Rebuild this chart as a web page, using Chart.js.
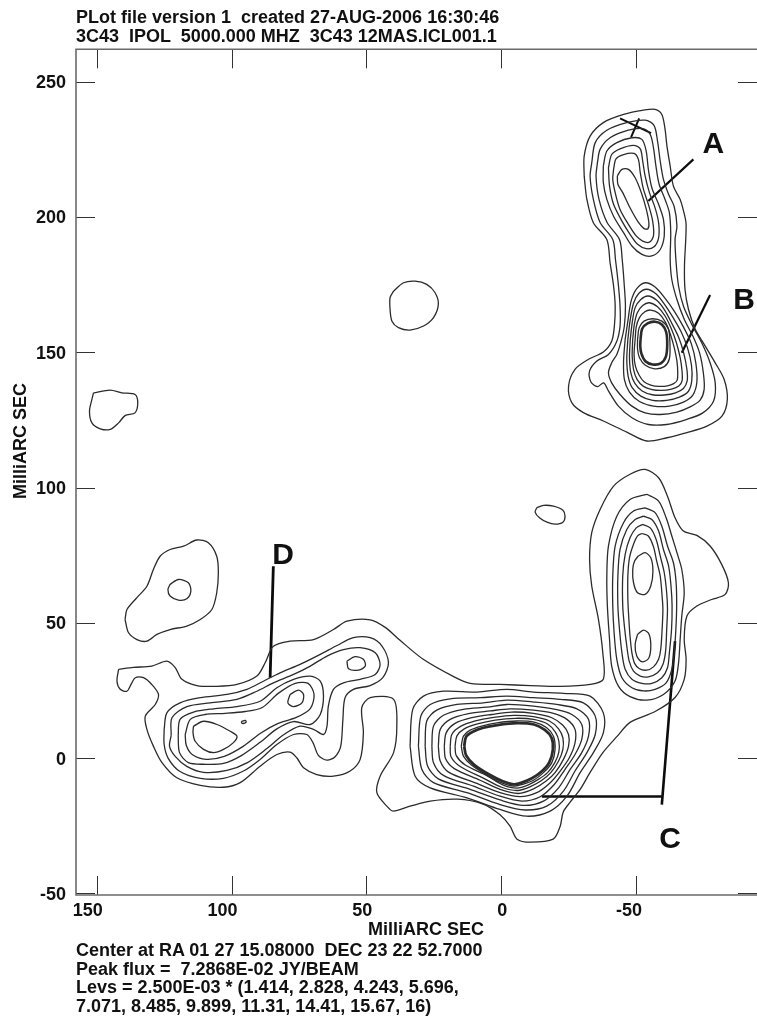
<!DOCTYPE html>
<html>
<head>
<meta charset="utf-8">
<title>3C43 IPOL 5000 MHz</title>
<script src="https://cdn.jsdelivr.net/npm/chart.js@4.4.1/dist/chart.umd.min.js"></script>
<style>
  html, body { margin: 0; padding: 0; background: #fff; }
  #wrap { position: relative; width: 757px; height: 1018px; overflow: hidden; background: #fff; }
  #map { position: absolute; left: 0; top: 0; }
  .t { position: absolute; font-family: "Liberation Sans", Arial, Helvetica, sans-serif; font-weight: bold;
       font-size: 18px; line-height: 18px; color: #111; white-space: pre; }
</style>
</head>
<body>
<div id="wrap">
  <canvas id="map" width="757" height="1018"></canvas>
  <div class="t" style="left:76px;top:8px">PLot file version 1  created 27-AUG-2006 16:30:46</div>
  <div class="t" style="left:76px;top:26.5px">3C43  IPOL  5000.000 MHZ  3C43 12MAS.ICL001.1</div>
  <div class="t" style="left:326px;top:920px;width:200px;text-align:center">MilliARC SEC</div>
  <div class="t" style="left:-60px;top:432px;width:160px;text-align:center;transform:rotate(-90deg)">MilliARC SEC</div>
  <div class="t" style="left:76px;top:941px">Center at RA 01 27 15.08000  DEC 23 22 52.7000</div>
  <div class="t" style="left:76px;top:959.5px">Peak flux =  7.2868E-02 JY/BEAM</div>
  <div class="t" style="left:76px;top:978px">Levs = 2.500E-03 * (1.414, 2.828, 4.243, 5.696,</div>
  <div class="t" style="left:76px;top:996.5px">7.071, 8.485, 9.899, 11.31, 14.41, 15.67, 16)</div>
</div>
<script>
// ---- axes (milliarcsec offsets from the map centre; RA increases to the left) ----
const xTickValues = [150, 100, 50, 0, -50];
const yTickValues = [-50, 0, 50, 100, 150, 200, 250];
const X_LEFT = 157.7, X_RIGHT = -94.9;
const Y_BOTTOM = -50.63, Y_TOP = 262.0;

// ---- lowest contour: one envelope around core, jet C and lobe D ----
const envelope = [
  [141.9,32.8],[136.4,33.5],[129.6,34.0],[124.0,35.8],[120.9,33.4],[118.4,29.1],[112.9,26.8],[105.4,26.5],[98.0,27.2],[90.6,30.3],
  [87.5,35.3],[84.5,41.3],[78.3,43.2],[69.6,43.8],[62.2,47.5],[57.2,50.6],[48.6,51.1],[43.0,48.3],[37.5,43.5],[28.9,36.5],
  [17.8,30.2],[11.5,27.6],[0.4,27.2],[-10.8,26.8],[-21.9,26.5],[-33.0,27.2],[-37.9,29.1],
  [-37.7,38.9],[-36.1,51.2],[-33.6,63.6],[-32.8,73.4],[-33.6,83.3],[-36.7,91.9],[-41.7,100.5],[-47.8,104.9],[-53.4,106.7],
  [-58.4,103.6],[-61.7,96.8],[-64.5,88.8],[-67.6,83.9],[-72.6,82.3],[-77.5,78.4],[-81.8,71.6],[-84.3,64.8],[-83.1,60.5],
  [-78.1,58.6],[-72.6,56.2],[-68.9,52.5],[-67.9,43.9],[-68.6,36.5],
  [-67.9,29.1],[-64.5,22.4],[-57.1,17.2],[-47.8,13.2],[-43.0,8.0],[-37.8,2.1],[-33.0,-5.3],[-29.3,-11.6],[-25.6,-16.3],
  [-23.0,-20.0],[-21.9,-25.2],[-19.3,-30.0],[-10.8,-31.1],[-5.9,-30.0],[-3.3,-25.2],[0.4,-21.0],[6.7,-17.0],[16.3,-15.2],
  [26.3,-15.9],[33.8,-17.8],[40.1,-19.6],
  [42.4,-17.8],[46.1,-12.8],[44.9,-6.7],[39.9,2.0],[38.7,11.8],[39.9,21.7],[48.6,22.3],[51.7,18.6],[51.1,9.4],[52.3,-0.5],
  [56.0,-4.8],[62.2,-6.7],[68.4,-6.1],[73.3,-3.6],[75.8,0.1],[78.3,2.2],[83.2,1.3],[89.4,-3.0],[96.8,-9.1],[103.0,-10.8],
  [111.6,-10.1],[120.3,-7.3],[125.8,-1.7],[129.0,4.4],[131.4,10.6],[132.0,15.5],[128.3,19.8],[127.1,23.5],[129.6,27.2],
  [132.7,29.7],[135.7,29.7],[137.3,27.2],[138.8,24.7],[141.3,25.4],[142.5,28.4]
];

// ---- isolated low-level patches ----
const patchWest = [[151.2,135.0],[145.0,136.0],[140.7,135.0],[135.8,134.4],[134.8,131.3],[135.8,127.6],[139.5,126.6],[141.9,123.9],[145.0,121.5],[148.7,121.7],[151.8,123.9],[152.7,128.2],[151.8,132.6]];
const patchMid = [[39.9,172.6],[36.2,175.7],[31.9,176.3],[27.6,175.1],[24.5,172.0],[23.3,167.7],[25.1,162.8],[28.8,159.7],[33.8,158.2],[38.1,159.1],[40.5,161.5],[41.2,165.8],[41.2,170.2]];
const patchSmall = [[-13.2,92.5],[-15.7,93.4],[-19.4,93.1],[-22.9,91.6],[-23.7,89.4],[-22.9,87.2],[-20.0,86.5],[-17.0,87.2],[-14.2,88.8],[-12.6,90.9]];
const patchNW = [[139.5,51.2],[138.8,54.9],[135.1,59.3],[131.4,63.5],[129.0,69.7],[126.5,74.6],[122.8,77.1],[117.8,78.3],[112.9,80.6],[108.6,79.6],[105.5,74.6],[104.9,68.5],[105.5,61.1],[107.3,54.9],[111.6,51.2],[116.6,48.8],[122.8,47.5],[127.7,45.7],[131.4,43.2],[135.1,43.8],[138.2,46.3]];
const patchNWCore = [[122.8,64.2],[119.7,66.0],[116.0,64.8],[115.1,61.7],[116.6,58.9],[119.7,58.4],[122.8,59.9],[123.6,62.3]];

// ---- lobe D ----
const lobeD2 = [[125.0,10.6],[124.0,16.7],[119.1,20.4],[111.6,22.3],[101.7,23.5],[94.3,25.4],[88.2,28.4],[82.0,31.5],[74.6,34.6],[67.1,38.3],[60.9,41.6],[54.8,44.5],[48.6,44.5],[44.2,41.4],[41.8,35.2],[43.9,29.7],[48.6,26.8],[54.8,25.4],[57.9,22.3],[58.7,14.3],[59.5,4.4],[61.6,0.5],[64.6,-0.8],[67.8,1.0],[69.8,5.7],[72.1,8.7],[77.0,8.7],[83.2,5.0],[89.4,-0.5],[95.6,-4.8],[103.0,-7.5],[111.6,-7.5],[119.1,-5.0],[123.5,-0.1],[125.0,5.0]];
const lobeD3 = [[122.4,8.4],[122.1,14.9],[116.6,19.0],[107.9,20.4],[98.0,21.7],[90.6,24.7],[84.5,27.8],[77.0,30.9],[70.8,34.0],[64.6,37.7],[58.5,40.1],[52.3,40.8],[46.7,38.9],[44.9,34.6],[46.7,30.9],[52.3,29.1],[58.5,27.8],[62.2,25.4],[64.1,19.2],[64.6,11.8],[65.9,8.7],[69.6,10.6],[74.6,11.8],[80.7,8.6],[86.9,3.5],[94.3,-1.8],[101.7,-4.6],[110.4,-5.3],[116.6,-3.1],[120.9,0.6],[123.0,4.3]];
const lobeD4 = [[119.8,8.0],[119.1,14.3],[114.1,17.0],[106.7,18.2],[98.0,19.0],[89.4,21.0],[83.2,26.0],[77.0,29.1],[70.8,30.3],[67.1,28.4],[65.9,22.9],[67.1,16.1],[70.8,12.4],[77.0,13.5],[83.2,10.8],[89.4,5.8],[96.2,1.0],[103.0,-2.0],[110.4,-2.3],[116.0,-1.7],[119.3,2.0]];
const lobeD5 = [[117.2,8.7],[115.3,14.3],[109.8,16.1],[102.4,16.5],[95.0,17.2],[88.6,18.7],[82.7,23.9],[76.4,27.6],[71.6,27.6],[69.4,23.5],[70.8,18.3],[76.0,15.0],[82.7,12.8],[89.4,9.1],[95.7,4.3],[102.7,0.6],[109.4,-0.5],[114.6,1.3],[116.8,4.7]];
const lobeDKnot = [[114.1,11.8],[110.4,13.6],[105.4,12.4],[100.5,9.9],[98.0,8.1],[99.3,5.7],[103.0,3.2],[106.7,2.0],[110.4,3.2],[113.5,6.2],[114.3,9.4]];
const lobeDKnotEast = [[78.3,23.5],[75.2,25.1],[73.3,23.5],[73.9,20.4],[77.0,19.0],[79.1,20.4]];
const lobeDKnotNE = [[57.2,35.8],[54.2,37.5],[51.1,36.5],[50.4,34.0],[52.9,32.5],[56.6,33.0]];
const lobeDSpeck = [[96.4,13.5],[94.9,13.9],[94.6,13.2],[96.1,12.8]];

// ---- core (outermost to innermost) ----
const core1 = [[33.8,4.4],[32.8,18.0],[28.8,22.9],[21.4,24.7],[9.0,24.4],[-2.1,25.4],[-12.0,24.4],[-23.1,23.9],[-33.0,22.9],[-37.9,16.7],[-37.9,9.3],[-34.2,2.0],[-29.3,-5.4],[-24.4,-14.1],[-18.2,-19.6],[-9.5,-21.5],[0.4,-19.0],[12.7,-14.7],[26.3,-11.0],[31.9,-6.7]];
const core2 = [[30.7,4.4],[29.8,15.5],[26.3,19.8],[18.9,21.9],[7.8,22.3],[-2.1,22.9],[-12.0,22.3],[-21.9,21.7],[-30.5,20.4],[-34.9,15.5],[-34.9,8.7],[-31.8,2.0],[-27.4,-4.8],[-23.1,-12.2],[-16.9,-17.8],[-8.9,-19.2],[0.4,-17.2],[12.7,-12.8],[25.1,-9.1],[29.4,-4.2]];
const core3 = [[28.2,4.4],[27.6,13.7],[23.9,17.7],[16.4,19.8],[6.6,20.4],[-2.1,21.4],[-12.0,20.7],[-20.6,19.8],[-28.1,18.2],[-32.4,14.3],[-32.4,8.1],[-29.9,2.0],[-25.6,-4.2],[-21.3,-11.0],[-15.7,-15.9],[-8.3,-17.5],[0.4,-15.5],[11.5,-11.6],[23.3,-7.7],[27.3,-2.9]];
const core4 = [[25.7,4.4],[25.1,11.8],[21.4,15.8],[14.0,18.0],[5.3,18.8],[-2.1,19.8],[-12.0,19.2],[-20.0,18.0],[-26.2,16.1],[-29.9,12.4],[-29.9,6.9],[-27.4,1.3],[-23.7,-4.2],[-19.7,-9.8],[-14.5,-14.3],[-7.7,-15.9],[0.4,-14.1],[10.3,-10.4],[21.4,-6.4],[25.1,-1.7]];
const core5 = [[23.3,4.4],[22.6,10.6],[18.9,14.3],[12.1,16.4],[4.1,17.4],[-3.3,18.2],[-12.0,17.7],[-19.4,16.5],[-24.4,14.3],[-27.4,10.6],[-27.4,5.6],[-25.3,0.1],[-21.9,-4.8],[-18.2,-9.1],[-13.2,-12.8],[-7.0,-14.3],[0.4,-12.8],[9.0,-9.4],[19.5,-5.2],[22.6,-1.1]];
const core6 = [[21.1,4.4],[20.4,9.3],[17.1,12.8],[10.9,14.9],[3.5,16.1],[-3.9,17.0],[-12.0,16.5],[-18.8,14.9],[-22.9,12.1],[-25.0,8.7],[-25.0,4.4],[-23.1,-0.5],[-20.0,-5.4],[-16.7,-8.5],[-12.0,-11.4],[-6.4,-13.1],[0.4,-11.6],[7.8,-8.2],[17.4,-3.9],[20.6,-0.3]];
const core7 = [[18.9,4.4],[18.3,8.7],[15.2,11.6],[9.6,13.7],[2.8,15.0],[-4.6,15.8],[-12.0,15.3],[-17.9,13.7],[-21.3,10.8],[-22.9,7.5],[-22.9,3.2],[-21.3,-1.1],[-18.4,-5.4],[-15.1,-8.2],[-11.0,-10.5],[-6.1,-12.0],[-0.2,-10.8],[6.6,-7.4],[15.2,-3.1],[18.6,0.5]];
const core8 = [[17.1,4.4],[16.4,8.2],[13.7,10.8],[8.8,12.6],[2.2,14.0],[-5.2,14.7],[-12.0,14.3],[-17.2,12.6],[-20.1,9.6],[-21.4,6.3],[-21.4,2.2],[-19.9,-1.7],[-17.2,-5.4],[-13.8,-7.9],[-10.1,-9.9],[-5.8,-11.1],[-0.6,-9.9],[5.3,-6.5],[13.3,-2.6],[16.7,1.0]];
const core9 = [[14.8,4.4],[14.0,8.1],[11.5,10.3],[7.2,11.8],[1.6,13.0],[-5.8,13.7],[-12.6,13.2],[-16.9,11.2],[-19.4,8.1],[-20.0,3.2],[-18.8,-1.7],[-15.7,-5.4],[-12.0,-8.2],[-7.7,-9.8],[-4.6,-10.4],[-0.2,-9.2],[4.7,-6.7],[10.9,-2.7],[14.0,0.7]];
const core10 = [[13.7,4.4],[13.0,7.9],[10.5,9.7],[6.6,11.2],[1.4,12.2],[-5.8,12.9],[-12.2,12.4],[-16.2,10.4],[-18.7,7.5],[-19.2,3.2],[-17.9,-1.5],[-15.1,-4.9],[-11.4,-7.5],[-7.4,-9.2],[-4.6,-9.7],[-0.6,-8.6],[4.1,-6.3],[10.0,-2.5],[13.0,1.0]];

// ---- jet C (north of the core) ----
const jetC1 = [[-54.0,97.5],[-58.4,95.0],[-61.2,88.8],[-63.3,82.1],[-65.4,75.3],[-67.0,69.7],[-67.9,61.1],[-67.0,52.5],[-66.4,43.9],[-65.8,35.2],[-64.5,28.5],[-60.2,23.5],[-54.0,21.4],[-47.8,22.7],[-43.5,26.6],[-41.0,34.0],[-40.2,43.9],[-39.4,56.2],[-39.2,67.3],[-39.8,78.4],[-42.9,89.4],[-47.8,95.6]];
const jetC2 = [[-53.4,92.5],[-57.1,90.7],[-59.6,85.7],[-61.7,78.4],[-63.9,72.2],[-64.9,64.8],[-65.1,56.2],[-64.8,47.5],[-64.2,38.9],[-63.3,32.8],[-61.2,27.8],[-57.1,25.4],[-52.8,24.8],[-48.5,26.0],[-44.8,29.7],[-42.9,36.5],[-41.9,46.3],[-41.4,56.2],[-41.4,67.3],[-42.3,78.4],[-45.4,87.0],[-49.1,91.3]];
const jetC3 = [[-52.8,89.4],[-55.9,88.2],[-58.4,83.9],[-60.2,77.1],[-62.1,71.0],[-63.0,63.6],[-63.4,56.2],[-63.2,47.5],[-62.4,38.9],[-61.7,33.4],[-59.6,29.7],[-55.9,27.6],[-52.2,27.6],[-48.5,29.1],[-46.0,32.8],[-44.8,38.9],[-43.9,47.5],[-43.3,56.2],[-43.3,67.3],[-44.1,77.1],[-46.6,84.5],[-49.7,88.2]];
const jetC4 = [[-52.5,86.4],[-55.3,85.1],[-57.5,80.8],[-59.0,74.7],[-60.5,68.5],[-61.4,61.1],[-61.7,55.0],[-61.4,47.5],[-61.0,39.5],[-60.0,34.6],[-58.0,31.5],[-54.6,30.0],[-51.6,30.3],[-49.1,32.1],[-47.5,35.8],[-46.6,41.4],[-45.7,48.8],[-45.1,56.2],[-45.1,67.3],[-46.0,75.3],[-47.8,81.4],[-50.1,85.1]];
const jetC5 = [[-52.2,83.0],[-54.6,82.1],[-56.5,78.1],[-57.7,72.8],[-59.0,67.3],[-59.7,59.9],[-60.0,55.0],[-59.7,47.5],[-59.2,40.2],[-58.4,36.5],[-56.5,33.7],[-54.0,32.5],[-51.3,33.0],[-49.5,35.0],[-48.5,38.9],[-47.8,45.1],[-47.3,52.5],[-47.0,58.6],[-47.0,67.3],[-47.6,74.0],[-49.1,79.0],[-50.6,82.1]];
const jetKnotN = [[-50.9,74.7],[-53.4,75.9],[-55.5,74.0],[-56.3,69.1],[-55.5,63.6],[-53.4,60.5],[-50.6,61.1],[-49.1,64.8],[-48.8,69.7],[-49.5,72.8]];
const jetKnotS = [[-50.6,45.7],[-52.8,47.3],[-54.9,45.7],[-55.5,40.8],[-54.6,36.7],[-52.2,35.6],[-50.3,37.7],[-49.7,42.0]];

// ---- northern hot spots A and B ----
const north1 = [[-30.8,215.1],[-30.8,222.5],[-33.0,229.9],[-37.9,234.9],[-45.4,237.9],[-52.8,239.5],[-57.1,239.8],[-59.6,237.9],[-60.8,232.4],[-61.5,226.2],[-62.7,218.8],[-63.9,211.4],[-66.4,206.5],[-67.5,202.8],[-68.6,197.3],[-68.0,181.9],[-68.2,173.2],[-69.5,165.8],[-72.0,158.5],[-75.7,152.3],[-79.4,146.1],[-82.7,140.0],[-83.9,132.6],[-81.9,126.4],[-76.3,122.7],[-68.9,120.3],[-61.5,118.4],[-54.0,117.2],[-46.6,120.5],[-37.9,124.6],[-30.5,127.7],[-26.2,131.4],[-25.0,137.5],[-27.4,143.7],[-32.4,147.4],[-37.9,150.1],[-41.0,154.1],[-42.0,159.7],[-42.3,167.1],[-41.7,174.5],[-40.4,183.1],[-39.2,191.7],[-34.2,197.9],[-31.8,206.5]];
const north2 = [[-33.6,220.0],[-34.9,227.5],[-39.2,232.1],[-46.6,234.9],[-53.4,235.8],[-56.7,233.9],[-58.0,228.1],[-59.0,220.7],[-60.2,213.9],[-62.1,208.4],[-64.2,203.8],[-65.2,196.7],[-64.5,191.7],[-64.9,183.1],[-65.8,174.5],[-67.6,167.1],[-70.7,160.3],[-74.4,153.5],[-77.5,146.1],[-79.4,138.7],[-78.8,132.0],[-74.8,127.6],[-68.9,125.2],[-61.4,123.3],[-54.6,123.3],[-48.5,125.8],[-43.5,130.1],[-39.8,135.7],[-38.0,138.7],[-35.7,137.3],[-33.3,139.0],[-32.8,143.1],[-35.5,146.8],[-39.8,149.2],[-42.9,154.1],[-44.1,159.7],[-44.1,167.1],[-43.4,175.7],[-42.4,184.3],[-41.4,191.7],[-36.7,198.0],[-34.2,206.5],[-33.0,215.0]];
const north3 = [[-35.7,220.0],[-36.7,225.0],[-40.4,229.3],[-47.2,232.1],[-52.8,232.6],[-55.3,230.5],[-56.5,225.6],[-57.4,218.9],[-58.6,212.1],[-60.8,206.5],[-62.4,201.6],[-62.9,194.2],[-62.7,184.3],[-63.3,176.9],[-65.2,169.5],[-67.9,162.2],[-71.1,156.0],[-73.6,149.8],[-75.0,142.4],[-75.3,136.3],[-73.8,132.3],[-70.3,129.9],[-65.2,127.9],[-59.0,127.0],[-53.4,127.6],[-48.5,130.1],[-44.1,134.4],[-41.0,138.7],[-39.8,142.4],[-41.0,146.1],[-42.9,149.2],[-44.5,154.1],[-45.7,159.7],[-46.1,167.1],[-45.6,175.7],[-44.9,184.3],[-43.9,191.7],[-39.3,198.0],[-36.3,206.5],[-35.2,215.0]];
const spotA4 = [[-37.9,218.9],[-39.2,224.4],[-42.9,227.5],[-48.5,229.3],[-52.2,228.7],[-53.8,224.4],[-54.6,217.6],[-55.9,210.8],[-58.4,204.7],[-60.2,199.1],[-60.5,193.0],[-59.0,188.0],[-55.9,185.6],[-52.2,186.2],[-48.5,189.3],[-45.4,194.2],[-41.7,200.3],[-39.2,206.5],[-37.9,212.7]];
const spotA5 = [[-39.8,218.2],[-41.0,223.1],[-44.1,225.2],[-49.1,226.5],[-51.6,225.2],[-52.5,220.7],[-53.4,215.2],[-55.0,209.0],[-57.1,203.4],[-58.4,197.9],[-58.4,192.3],[-56.7,189.0],[-53.8,188.3],[-50.6,189.9],[-47.8,193.6],[-44.8,198.5],[-41.7,204.7],[-40.2,211.4]];
const spotA6 = [[-41.7,217.6],[-42.6,221.5],[-45.4,223.1],[-49.3,223.5],[-50.9,221.3],[-51.6,216.4],[-52.8,210.2],[-54.6,204.7],[-56.2,198.5],[-56.5,193.0],[-55.0,190.7],[-52.5,191.1],[-50.1,193.0],[-47.2,197.3],[-44.1,202.8],[-42.3,209.0],[-41.4,213.9]];
const spotA7 = [[-43.1,215.2],[-44.8,217.6],[-47.2,217.6],[-49.7,214.5],[-52.0,209.0],[-53.8,203.0],[-54.8,197.8],[-54.4,195.6],[-52.9,195.8],[-50.6,198.5],[-47.8,203.4],[-45.1,209.0],[-43.3,212.1]];
const spotB4 = [[-46.0,154.8],[-47.0,161.5],[-48.2,168.9],[-50.3,173.5],[-53.5,175.7],[-57.1,174.1],[-60.6,170.2],[-64.2,165.2],[-67.6,159.4],[-70.5,153.3],[-72.2,146.1],[-72.6,139.0],[-71.1,134.2],[-67.6,131.6],[-62.4,130.1],[-56.5,130.1],[-51.3,131.8],[-47.6,135.3],[-45.7,140.0],[-45.4,146.7]];
const spotB5 = [[-47.0,154.8],[-47.8,161.5],[-49.1,168.1],[-51.1,171.8],[-54.0,173.3],[-57.4,171.6],[-60.6,167.7],[-63.9,162.6],[-66.8,157.5],[-69.1,151.7],[-70.6,145.2],[-70.7,139.4],[-69.4,135.5],[-66.1,133.4],[-61.4,132.2],[-56.2,132.2],[-51.8,133.8],[-48.6,136.9],[-47.1,141.2],[-46.6,147.4]];
const spotB6 = [[-47.9,154.8],[-48.6,160.9],[-49.7,166.5],[-51.8,169.5],[-54.5,170.8],[-57.7,169.2],[-60.7,165.5],[-63.5,160.3],[-65.9,155.4],[-67.7,149.8],[-68.9,143.7],[-69.0,139.4],[-67.6,136.6],[-64.7,135.0],[-60.5,134.2],[-56.1,134.3],[-52.3,135.7],[-49.6,138.5],[-48.1,142.4],[-47.6,148.0]];
const spotB7 = [[-48.8,154.8],[-49.4,160.3],[-50.5,164.6],[-52.5,167.3],[-55.0,168.3],[-58.0,166.8],[-60.8,163.4],[-63.2,158.5],[-65.0,153.5],[-66.4,148.0],[-67.1,143.1],[-67.1,139.4],[-65.9,137.5],[-63.2,136.4],[-59.5,135.9],[-56.0,136.2],[-52.8,137.4],[-50.4,140.0],[-49.1,143.7],[-48.6,148.6]];
const spotB8 = [[-49.7,154.8],[-50.1,159.4],[-51.3,162.8],[-53.3,165.0],[-55.5,165.6],[-58.4,164.4],[-60.9,161.2],[-62.8,156.6],[-64.2,151.7],[-65.2,146.7],[-65.5,142.4],[-65.3,139.7],[-64.0,138.4],[-61.7,137.6],[-58.5,137.4],[-55.5,137.9],[-53.0,139.1],[-51.2,141.5],[-49.8,144.9],[-49.3,149.2]];
const spotB9 = [[-50.6,154.8],[-51.2,159.1],[-53.0,161.5],[-56.2,162.4],[-59.6,161.5],[-62.0,158.7],[-62.6,153.5],[-62.4,147.6],[-60.5,144.7],[-56.9,143.9],[-53.5,145.2],[-51.3,148.0],[-50.6,151.1]];
const spotB10 = [[-51.7,154.8],[-52.3,158.7],[-54.3,160.7],[-57.1,161.3],[-59.7,160.2],[-61.2,157.5],[-61.6,152.9],[-61.1,148.4],[-59.2,145.9],[-56.2,145.5],[-53.5,146.7],[-52.0,149.6],[-51.6,152.3]];

// ---- annotation marks ----
const pointerA = [[-54.6,205.9],[-71.3,221.3]];
const pointerB = [[-67.0,149.8],[-77.5,171.2]];
const pointerCUp = [[-64.5,43.2],[-59.6,-17.2]];
const pointerCAcross = [[-59.6,-14.2],[-15.1,-14.2]];
const pointerD = [[84.5,70.9],[85.7,29.7]];
const crossStroke1 = [[-44.1,236.5],[-55.6,231.0]];
const crossStroke2 = [[-51.2,236.5],[-48.2,229.5]];
const componentNames = ['A', 'B', 'C', 'D'];
const componentX = [-78.7, -90.1, -62.7, 80.9];
const componentY = [227.1, 169.5, -29.7, 75.1];

// ---- styling and assembly ----
const FONT = '"Liberation Sans", Arial, Helvetica, sans-serif';
const INK = '#2b2b2b';

function closedRing(ring) {
  const pts = ring.map(([x, y]) => ({ x, y }));
  pts.push({ x: ring[0][0], y: ring[0][1] });
  return pts;
}
function contour(ring, width) {
  return { data: closedRing(ring), showLine: true, borderColor: INK, borderWidth: width || 1.3,
           pointRadius: 0, tension: 0.3, fill: false };
}
function stroke(pts, width) {
  return { data: pts.map(([x, y]) => ({ x, y })), showLine: true, borderColor: '#0c0c0c',
           borderWidth: width, pointRadius: 0, tension: 0, fill: false };
}

const thinRings = [
  envelope, patchWest, patchMid, patchSmall, patchNW, patchNWCore,
  lobeD2, lobeD3, lobeD4, lobeD5, lobeDKnot, lobeDKnotEast, lobeDKnotNE, lobeDSpeck,
  core1, core2, core3, core4, core5, core6, core7, core8, core9,
  jetC1, jetC2, jetC3, jetC4, jetC5, jetKnotN, jetKnotS,
  north1, north2, north3, spotA4, spotA5, spotA6, spotA7,
  spotB4, spotB5, spotB6, spotB7, spotB8, spotB9
];

const datasets = thinRings.map(r => contour(r));
datasets.push(contour(core10, 2.8));
datasets.push(contour(spotB10, 2.6));
datasets.push(stroke(pointerA, 2.2), stroke(pointerB, 2.2), stroke(pointerCUp, 2.6),
               stroke(pointerCAcross, 2.4), stroke(pointerD, 2.8),
               stroke(crossStroke1, 2), stroke(crossStroke2, 2));

// frame on three sides plus inward ticks on all four
const frameAndTicks = {
  id: 'frameAndTicks',
  afterDraw(chart) {
    const { ctx, chartArea: a, scales } = chart;
    const len = 19;
    ctx.save();
    ctx.strokeStyle = '#333';
    ctx.lineWidth = 1;
    ctx.beginPath();
    xTickValues.forEach(v => {
      const px = Math.round(scales.x.getPixelForValue(v)) + 0.5;
      ctx.moveTo(px, a.top); ctx.lineTo(px, a.top + len);
      ctx.moveTo(px, a.bottom); ctx.lineTo(px, a.bottom - len);
    });
    yTickValues.forEach(v => {
      const py = Math.round(scales.y.getPixelForValue(v)) + 0.5;
      ctx.moveTo(a.left, py); ctx.lineTo(a.left + len, py);
      ctx.moveTo(a.right, py); ctx.lineTo(a.right - len, py);
    });
    ctx.stroke();
    ctx.strokeStyle = '#6a6a6a';
    ctx.lineWidth = 1.6;
    ctx.beginPath();
    ctx.moveTo(a.right, a.top);
    ctx.lineTo(a.left, a.top);
    ctx.lineTo(a.left, a.bottom);
    ctx.lineTo(a.right, a.bottom);
    ctx.stroke();
    ctx.restore();
  }
};

const componentLabels = {
  id: 'componentLabels',
  afterDatasetsDraw(chart) {
    const { ctx, scales } = chart;
    ctx.save();
    ctx.fillStyle = '#111';
    ctx.font = 'bold 30px ' + FONT;
    ctx.textAlign = 'center';
    ctx.textBaseline = 'middle';
    componentNames.forEach((name, i) => {
      ctx.fillText(name, scales.x.getPixelForValue(componentX[i]), scales.y.getPixelForValue(componentY[i]) + 1);
    });
    ctx.restore();
  }
};

new Chart(document.getElementById('map'), {
  type: 'scatter',
  data: { datasets },
  options: {
    responsive: false,
    animation: false,
    devicePixelRatio: 1,
    events: [],
    layout: { padding: { top: 49.3, left: 0, right: 0, bottom: 0 } },
    plugins: { legend: { display: false }, tooltip: { enabled: false }, title: { display: false } },
    scales: {
      x: {
        type: 'linear', position: 'bottom', reverse: true, min: X_RIGHT, max: X_LEFT,
        afterBuildTicks: s => { s.ticks = xTickValues.map(v => ({ value: v })); },
        afterFit: s => { s.height = 123; },
        grid: { display: false, drawTicks: false },
        border: { display: false },
        ticks: { color: '#111', font: { family: FONT, size: 18, weight: 'bold' }, padding: 5,
                 align: 'end', labelOffset: 6, maxRotation: 0, autoSkip: false, callback: v => String(v) }
      },
      y: {
        type: 'linear', position: 'left', min: Y_BOTTOM, max: Y_TOP,
        afterBuildTicks: s => { s.ticks = yTickValues.map(v => ({ value: v })); },
        afterFit: s => { s.width = 76; },
        grid: { display: false, drawTicks: false },
        border: { display: false },
        ticks: { color: '#111', font: { family: FONT, size: 18, weight: 'bold' }, padding: 10,
                 labelOffset: 1.5, autoSkip: false, callback: v => String(v) }
      }
    }
  },
  plugins: [frameAndTicks, componentLabels]
});
</script>
</body>
</html>
